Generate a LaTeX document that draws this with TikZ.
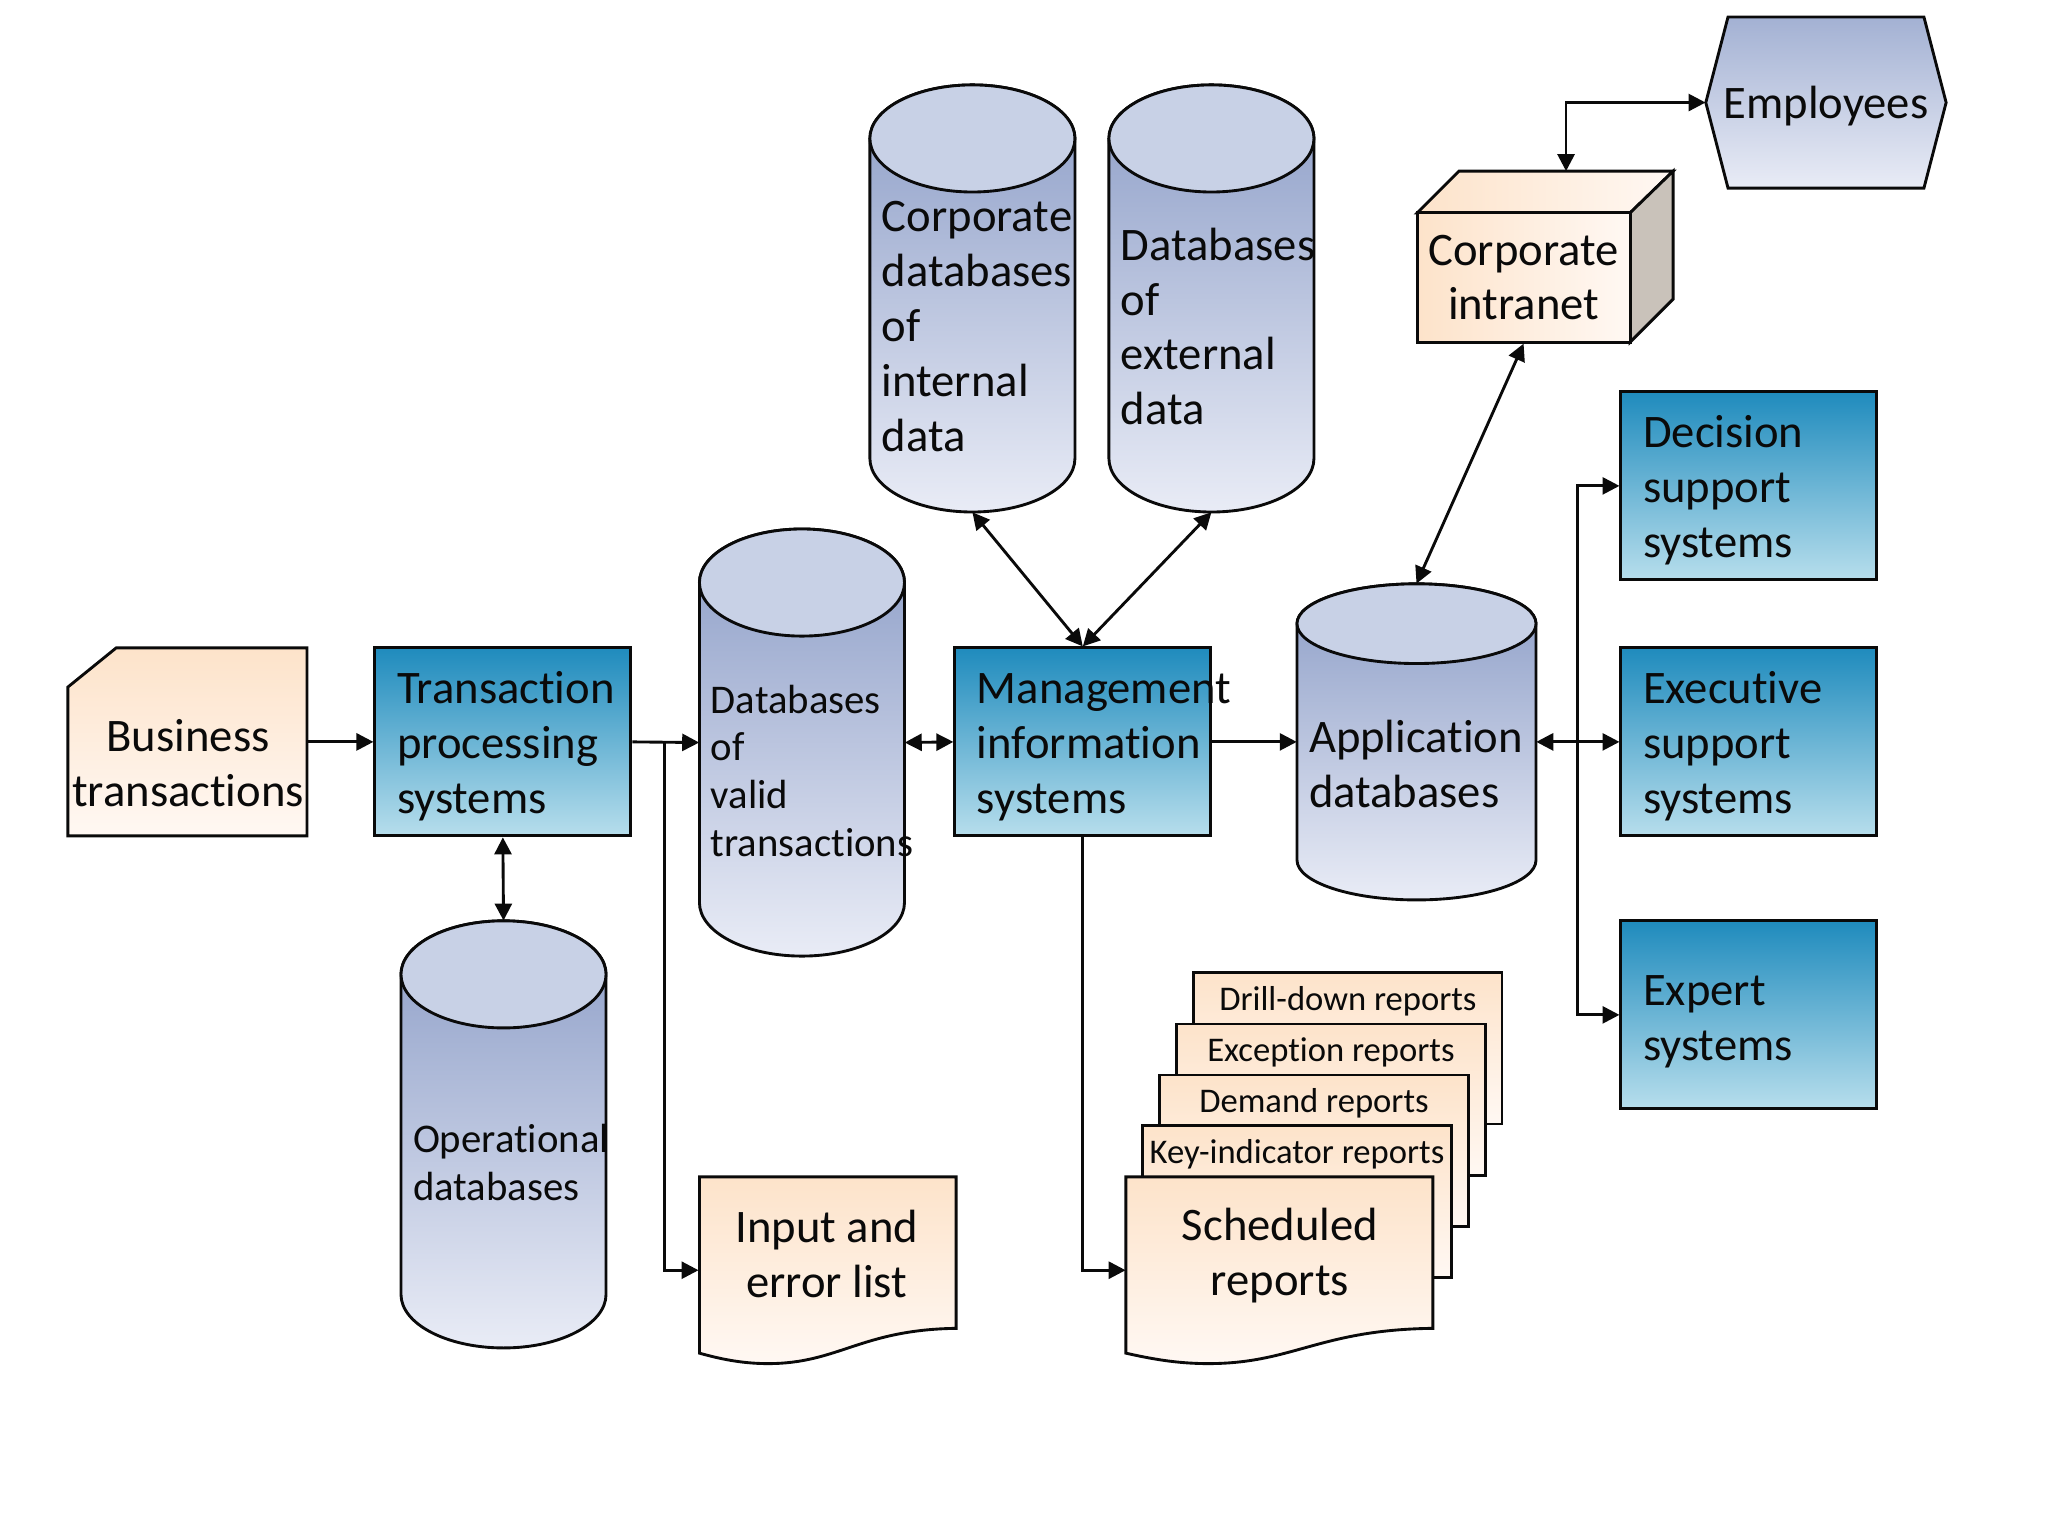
\documentclass[tikz,border=0pt]{standalone}
\usepackage{fontspec}
\setmainfont[Ligatures=NoCommon]{Carlito}
\usetikzlibrary{arrows.meta}
\definecolor{peachA}{HTML}{FDE3CA}
\definecolor{peachB}{HTML}{FFF8F3}
\definecolor{blueA}{HTML}{1F8BBD}
\definecolor{blueB}{HTML}{B7DEEC}
\definecolor{slateA}{HTML}{A3B1D3}
\definecolor{slateD}{HTML}{8C9DC7}
\definecolor{slateB}{HTML}{E9ECF6}
\definecolor{slateC}{HTML}{C8D1E6}
\definecolor{sidegrey}{HTML}{C9C2BA}
\definecolor{inkblack}{HTML}{0A0A0A}
\tikzset{
  outline/.style={draw=inkblack,line width=2.2pt,line join=miter},
  peachfill/.style={outline,top color=peachA,bottom color=peachB},
  slatefill/.style={outline,top color=slateA,bottom color=slateB},
  bigtext/.style={font=\fontsize{35.7}{42}\selectfont,text=inkblack,inner sep=0pt},
  midtext/.style={font=\fontsize{31.2}{36.5}\selectfont,text=inkblack,inner sep=0pt},
  smalltext/.style={font=\fontsize{26.5}{32}\selectfont,text=inkblack,inner sep=0pt},
  anchorbox/.style={rectangle,inner sep=0pt},
  bluebox/.style={outline,top color=blueA,bottom color=blueB,rectangle,minimum width=196pt,minimum height=144pt,
    inner xsep=17pt,inner ysep=0pt,text width=162pt,align=left,text=inkblack,
    font=\fontsize{35.7}{42}\selectfont},
  reportbox/.style={peachfill,rectangle,minimum width=236pt,minimum height=116pt},
  link/.style={draw=inkblack,line width=2.2pt},
  >={Triangle[length=13pt,width=13pt]}
}
\newcommand{\topgap}[1]{\rule{0pt}{#1pt}}
\newcommand{\dbcyl}[6]{%
  \pgfmathsetmacro{\dbcx}{(#2+#3)/2}%
  \pgfmathsetmacro{\dbrx}{(#3-#2)/2}%
  \pgfmathsetmacro{\dbt}{#4+#6}%
  \pgfmathsetmacro{\dbb}{#5-#6}%
  \pgfmathsetmacro{\dbcy}{(#4+#5)/2}%
  \pgfmathsetmacro{\dbw}{#3-#2}%
  \pgfmathsetmacro{\dbh}{#5-#4}%
  \path[outline,top color=slateD,bottom color=slateB] (#2,\dbt) -- (#2,\dbb)
     arc[start angle=180,end angle=360,x radius=\dbrx pt,y radius=#6pt]
     -- (#3,\dbt)
     arc[start angle=0,end angle=180,x radius=\dbrx pt,y radius=#6pt] -- cycle;
  \path[outline,fill=slateC] (\dbcx,\dbt) ellipse[x radius=\dbrx pt,y radius=#6pt];
  \node[anchorbox,minimum width=\dbw pt,minimum height=\dbh pt] (#1) at (\dbcx,\dbcy) {};
}
\begin{document}
\begin{tikzpicture}[x=1pt,y=-1pt]
\useasboundingbox (0,0) rectangle (1568,1176);

% Business transactions
\path[peachfill] (89,496) -- (235,496) -- (235,640) -- (52,640) -- (52,526) -- cycle;
\node[anchorbox,minimum width=183pt,minimum height=144pt] (bt) at (143.5,568) {};
\node[bigtext,align=center] (btl) at (144,584) {Business\\transactions};

% Blue boxes
\node[bluebox] (tps) at (385,568) {\topgap{31}Transaction\\processing\\systems};
\node[bluebox] (mis) at (829,568) {\topgap{31}\mbox{Management}\\information\\systems};
\node[bluebox] (dss) at (1339,372) {\topgap{31}Decision\\support\\systems};
\node[bluebox] (ess) at (1339,568) {\topgap{31}Executive\\support\\systems};
\node[bluebox] (exs) at (1339,777) {\topgap{34}Expert\\systems};

% Cylinders
\dbcyl{dbv}{535.5}{692.5}{405}{732}{41}
\node[midtext,align=left,anchor=west] (dbvl) at (544,590) {Databases\\of\\valid\\transactions};
\dbcyl{opd}{307}{464}{705}{1032}{41}
\node[midtext,align=left,anchor=west] (opdl) at (316,890) {Operational\\databases};
\dbcyl{cdb}{666}{823}{65}{392}{41}
\node[bigtext,align=left,anchor=west] (cdbl) at (675,250) {Corporate\\databases\\of\\internal\\data};
\dbcyl{edb}{849}{1006}{65}{392}{41}
\node[bigtext,align=left,anchor=west] (edbl) at (858,250) {Databases\\of\\external\\data};
\dbcyl{app}{993}{1176}{447}{689}{30.5}
\node[bigtext,align=left,anchor=west] (appl) at (1002,585) {Application\\databases};

% Corporate intranet
\path[outline,left color=peachA,right color=peachB] (1085,163) -- (1117,131) -- (1281,131) -- (1248,163) -- cycle;
\path[outline,fill=sidegrey] (1248,163) -- (1281,131) -- (1281,229) -- (1248,262) -- cycle;
\node[outline,left color=peachA,right color=peachB,rectangle,minimum width=163pt,minimum height=99pt,inner sep=0pt,
  align=center,text=inkblack,font=\fontsize{35.7}{42}\selectfont] (cin) at (1166.5,212.5) {Corporate\\intranet};
\coordinate (cintop) at (1199,131);

% Employees
\path[slatefill] (1323,13) -- (1473,13) -- (1490,78.5) -- (1473,144) -- (1323,144) -- (1306,78.5) -- cycle;
\node[anchorbox,minimum width=184pt,minimum height=131pt] (emp) at (1398,78.5) {};
\node[bigtext] (empl) at (1398,81) {Employees};

% Input and error list
\path[peachfill] (535.5,901) -- (732,901) -- (732,1017)
  .. controls (659,1018) and (642,1044) .. (588,1044)
  .. controls (567,1044) and (550,1040) .. (535.5,1036) -- cycle;
\node[anchorbox,minimum width=197pt,minimum height=143pt] (iel) at (633.5,972.5) {};
\node[bigtext,align=center] (iell) at (633,960) {Input and\\error list};

% Report stack
\node[reportbox] (rdd) at (1032,802.5) {};
\node[smalltext] (rddl) at (1032,766.5) {Drill-down reports};
\node[reportbox] (rex) at (1019,842) {};
\node[smalltext] (rexl) at (1019,805.5) {Exception reports};
\node[reportbox] (rde) at (1006,881) {};
\node[smalltext] (rdel) at (1006,844.5) {Demand reports};
\node[reportbox] (rki) at (993,920) {};
\node[smalltext] (rkil) at (993,883.5) {Key-indicator reports};
\path[peachfill] (862,901) -- (1097,901) -- (1097,1017)
  .. controls (1010,1018) and (990,1044) .. (925,1044)
  .. controls (900,1044) and (880,1040) .. (862,1036) -- cycle;
\node[anchorbox,minimum width=235pt,minimum height=143pt] (srp) at (979.5,972.5) {};
\node[bigtext,align=center] (srpl) at (980,961.5) {Scheduled\\reports};

% Connectors
\coordinate (busa) at (509,568);
\coordinate (busb) at (1208,568);
\draw[link,->] (bt.east) -- (tps.west);
\draw[link,->] (tps.east) -- (dbv.west);
\draw[link,->] (busa) |- (iel.west);
\draw[link,<->] (tps.south) -- (opd.north);
\draw[link,<->] (dbv.east) -- (mis.west);
\draw[link,<->] (cdb.south) -- (mis.north);
\draw[link,<->] (edb.south) -- (mis.north);
\draw[link,->] (mis.east) -- (app.west);
\draw[link,->] (mis.south) |- (srp.west);
\draw[link,<->] (app.east) -- (ess.west);
\draw[link,->] (busb) |- (dss.west);
\draw[link,->] (busb) |- (exs.west);
\draw[link,<->] (app.north) -- (cin.south);
\draw[link,<->] (cintop) |- (emp.west);
\end{tikzpicture}
\end{document}
